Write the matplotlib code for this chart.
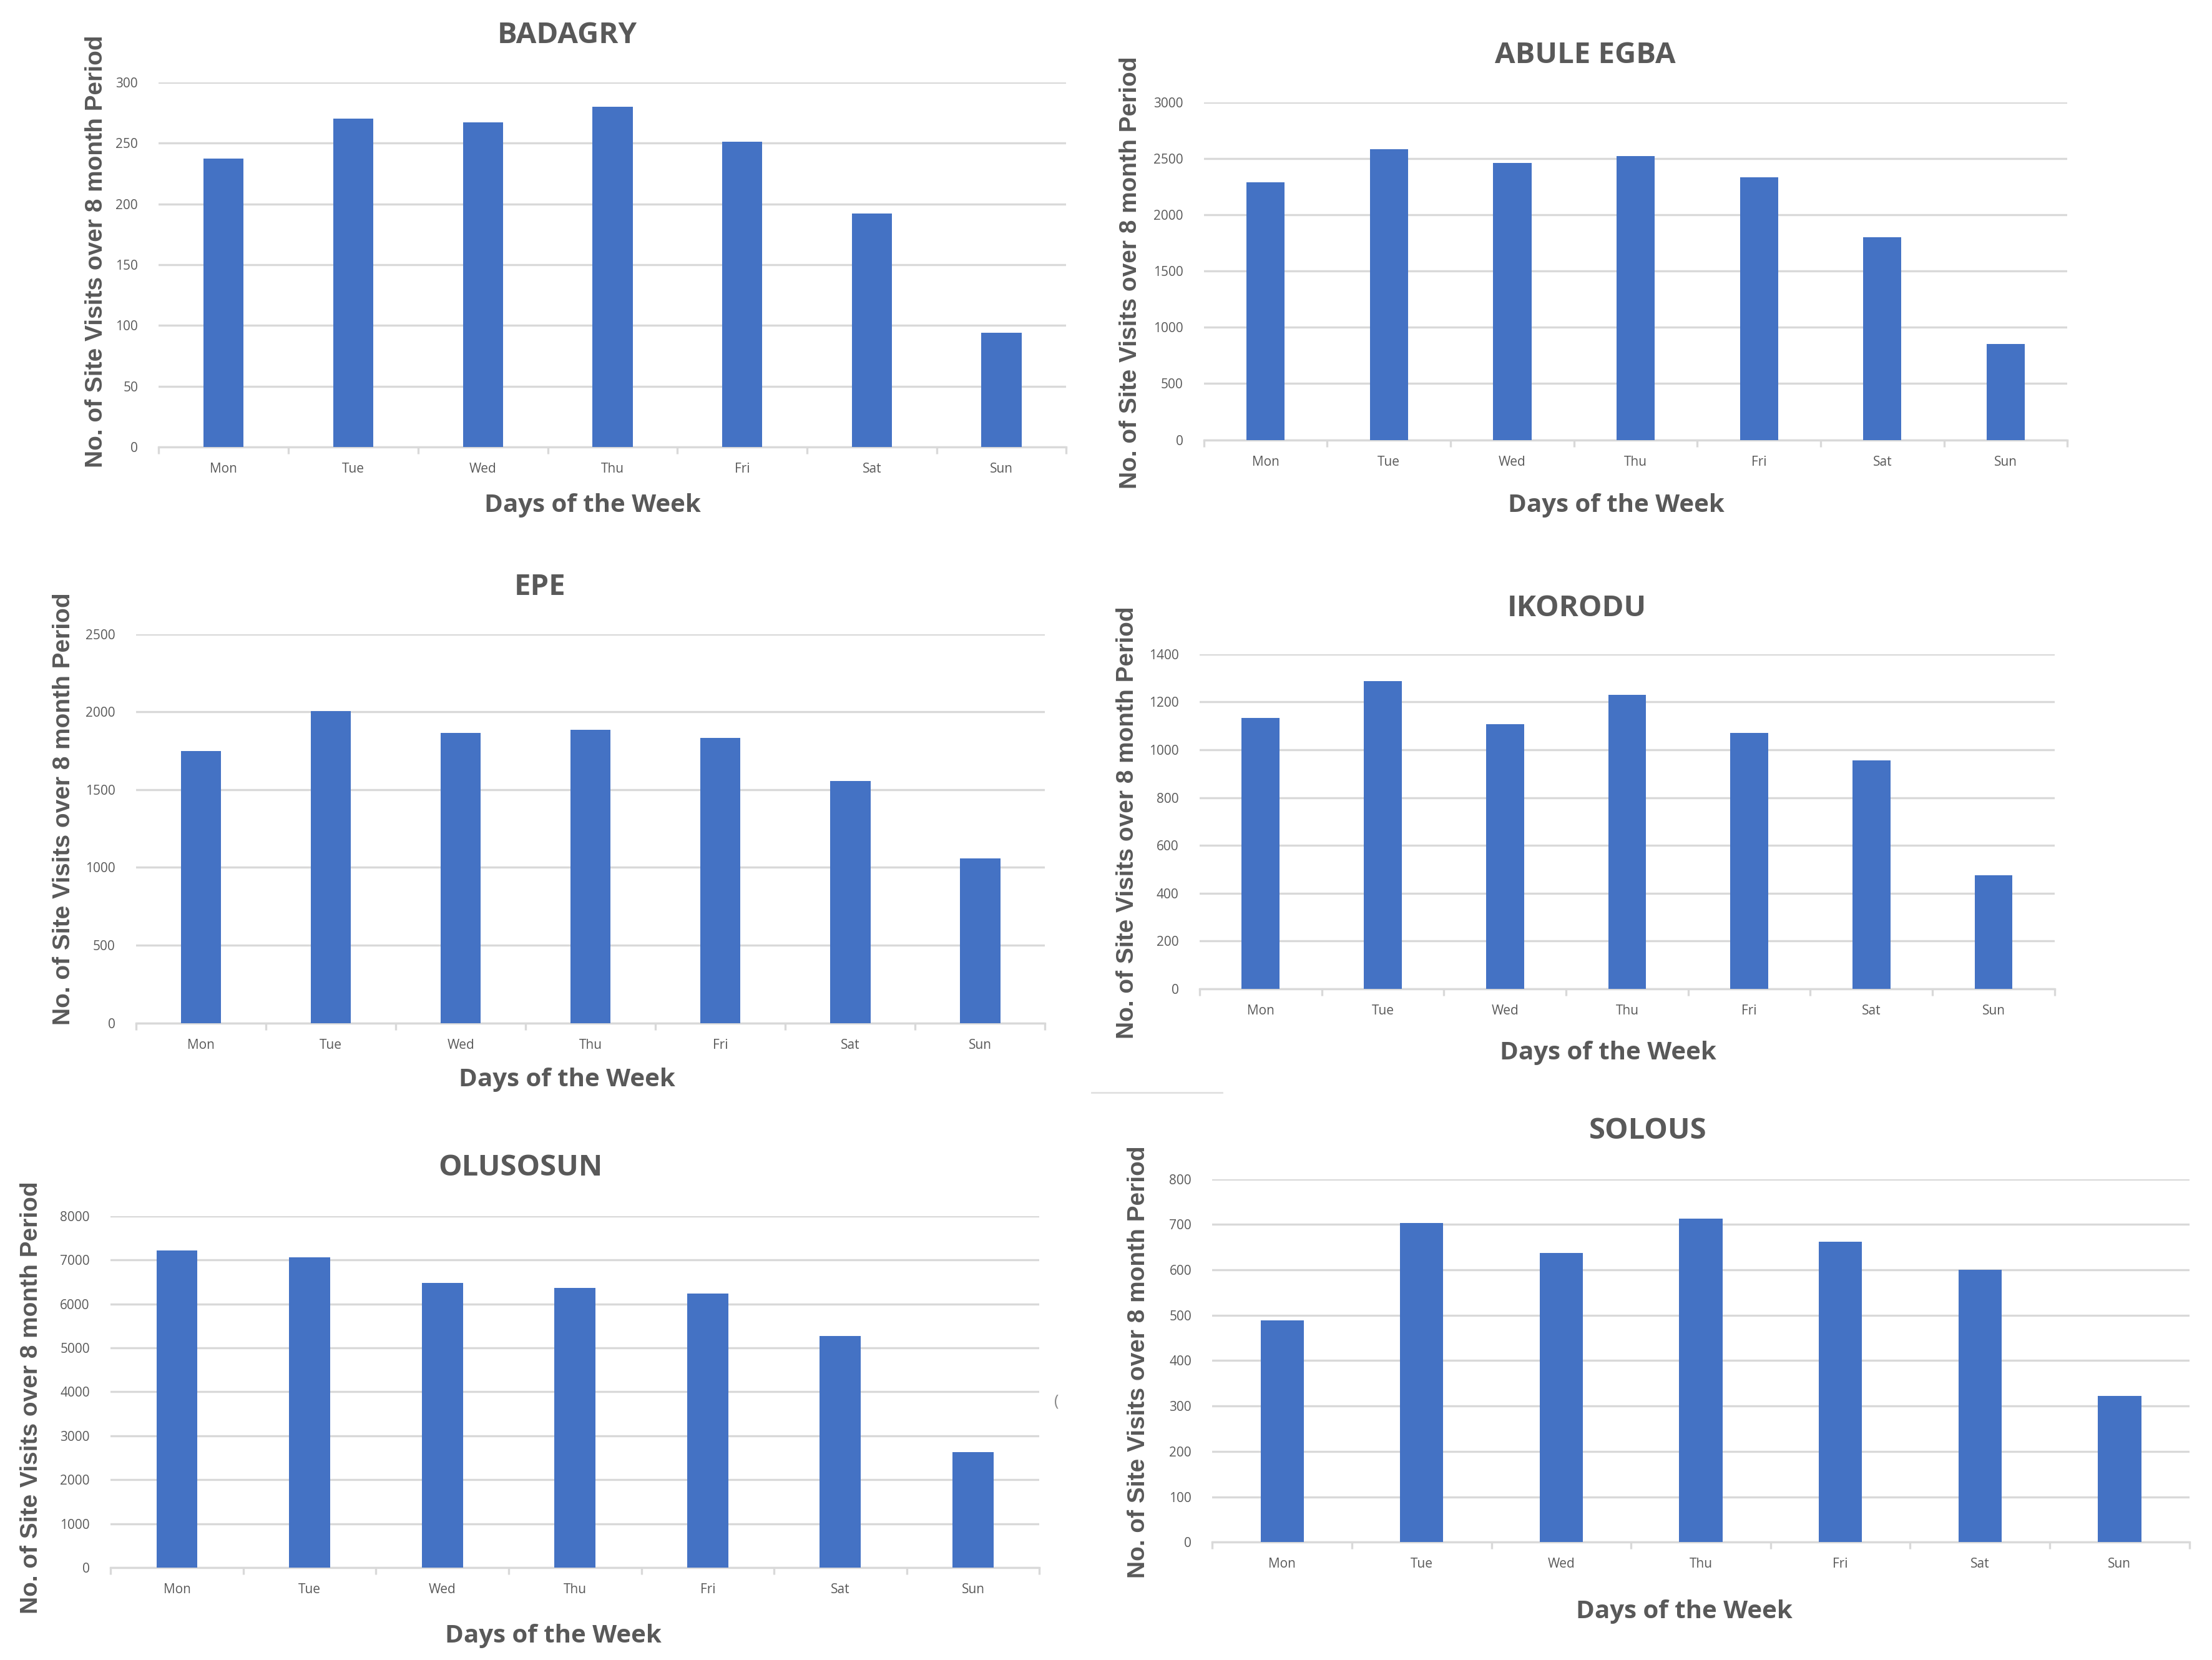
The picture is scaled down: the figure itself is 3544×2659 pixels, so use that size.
import matplotlib
matplotlib.use("Agg")
import matplotlib.pyplot as plt
from matplotlib.ticker import MultipleLocator, FixedLocator

days = ["Mon", "Tue", "Wed", "Thu", "Fri", "Sat", "Sun"]

badagry = [237, 270, 267, 280, 251, 192, 94]
abule_egba = [2290, 2580, 2460, 2520, 2330, 1800, 850]
epe = [1748, 2007, 1864, 1885, 1834, 1556, 1059]
ikorodu = [1132, 1286, 1106, 1230, 1069, 956, 474]
olusosun = [7220, 7056, 6482, 6359, 6236, 5268, 2626]
solous = [488, 703, 637, 713, 662, 600, 322]

titles = ["BADAGRY", "ABULE EGBA", "EPE", "IKORODU", "OLUSOSUN", "SOLOUS"]
series = [badagry, abule_egba, epe, ikorodu, olusosun, solous]
ymax = [300, 3000, 2500, 1400, 8000, 800]
ystep = [50, 500, 500, 200, 1000, 100]

ylabel = "No. of Site Visits over 8 month Period"
xlabel = "Days of the Week"

W, H = 1560.0, 1170.0
layout = [
    dict(x0=112, x1=752, yt=58, yb=315, tx=400, ty=25, lx=68, ly=177, xl=(418, 356)),
    dict(x0=849, x1=1458, yt=72, yb=310, tx=1118, ty=39, lx=797, ly=192, xl=(1140, 356)),
    dict(x0=96, x1=737, yt=447, yb=721, tx=381, ty=414, lx=45, ly=570, xl=(400, 761)),
    dict(x0=846, x1=1449, yt=461, yb=697, tx=1112, ty=429, lx=795, ly=580, xl=(1134, 742)),
    dict(x0=78, x1=733, yt=857, yb=1105, tx=367, ty=823, lx=22, ly=985, xl=(390, 1153)),
    dict(x0=855, x1=1544, yt=831, yb=1087, tx=1162, ty=797, lx=803, ly=960, xl=(1188, 1136)),
]

fig = plt.figure(figsize=(17.72, 13.295), dpi=200)
fig.patch.set_facecolor("white")

narrow = ["Liberation Sans Narrow", "Open Sans", "DejaVu Sans"]
wide = ["Liberation Sans", "DejaVu Sans"]
gray = "#595959"
bar_color = "#4472C4"
grid_color = "#D9D9D9"

for i, (vals, lay) in enumerate(zip(series, layout)):
    rect = [lay["x0"] / W, 1 - lay["yb"] / H, (lay["x1"] - lay["x0"]) / W, (lay["yb"] - lay["yt"]) / H]
    ax = fig.add_axes(rect)
    ax.bar(range(len(days)), vals, width=0.31, color=bar_color, zorder=3)
    ax.set_xlim(-0.5, len(days) - 0.5)
    ax.set_ylim(0, ymax[i])
    ax.yaxis.set_major_locator(MultipleLocator(ystep[i]))
    ax.grid(axis="y", color=grid_color, linewidth=1.2, zorder=0)
    ax.set_axisbelow(True)
    for s in ["top", "right", "left"]:
        ax.spines[s].set_visible(False)
    ax.spines["bottom"].set_color(grid_color)
    ax.spines["bottom"].set_linewidth(1.2)
    ax.set_xticks(range(len(days)))
    ax.set_xticklabels(days, fontfamily=narrow, fontsize=7.5, color=gray)
    ax.xaxis.set_minor_locator(FixedLocator([k + 0.5 for k in range(-1, len(days))]))
    ax.tick_params(axis="x", which="major", length=0, pad=9)
    ax.tick_params(axis="x", which="minor", length=4, color=grid_color, width=1.2)
    ax.tick_params(axis="y", length=0, pad=12, labelsize=7.5, labelcolor=gray)
    for lab in ax.get_yticklabels():
        lab.set_fontfamily(narrow)
    fig.text(lay["tx"] / W, 1 - lay["ty"] / H, titles[i], ha="center", va="center",
             fontsize=17, fontweight="bold", color=gray, family=narrow)
    fig.text(lay["lx"] / W, 1 - lay["ly"] / H, ylabel, ha="center", va="center",
             rotation=90, fontsize=14, fontweight="bold", color=gray, family=wide)
    fig.text(lay["xl"][0] / W, 1 - lay["xl"][1] / H, xlabel, ha="center", va="center",
             fontsize=14.5, fontweight="bold", color=gray, family=narrow)

# stray marks seen in the reference
fig.add_artist(plt.Line2D([770 / W, 862 / W], [1 - 770 / H, 1 - 770 / H], color="#E0E0E0", linewidth=1.0))
fig.text(745 / W, 1 - 988 / H, "(", ha="center", va="center", fontsize=9, color="#888888", family=narrow)

fig.savefig("out.png", dpi=200, facecolor="white")
